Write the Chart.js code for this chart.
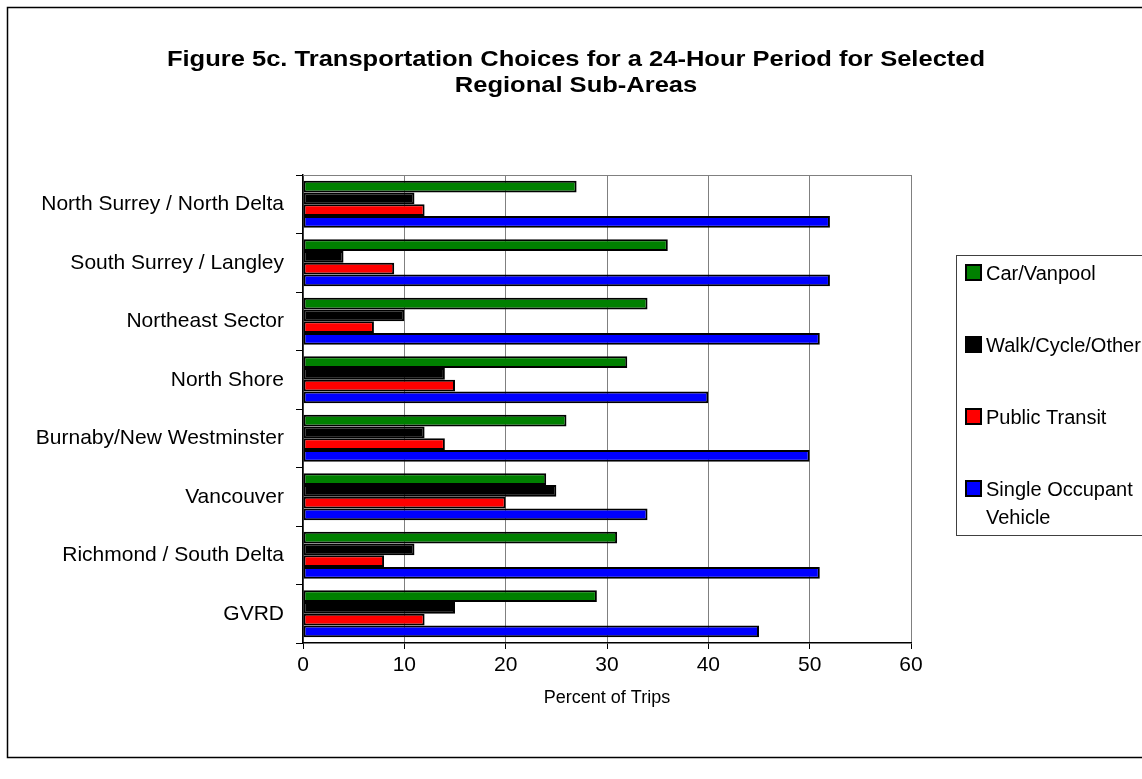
<!DOCTYPE html>
<html>
<head>
<meta charset="utf-8">
<title>Figure 5c</title>
<script src="https://cdn.jsdelivr.net/npm/chart.js@4.4.1/dist/chart.umd.min.js"></script>
<style>
  body { margin: 0; background: #fff; }
  #wrap { width: 1142px; height: 779px; position: relative; }
</style>
</head>
<body>
<div id="wrap"><canvas id="tripChart"></canvas></div>
<script>
// sub-areas, top to bottom
const areas = [
    'North Surrey / North Delta',
    'South Surrey / Langley',
    'Northeast Sector',
    'North Shore',
    'Burnaby/New Westminster',
    'Vancouver',
    'Richmond / South Delta',
    'GVRD'
];

// percent of trips by mode
const carVanpool     = [27, 36, 34, 32, 26, 24, 31, 29];
const walkCycle      = [11, 4, 10, 14, 12, 25, 11, 15];
const publicTransit  = [12, 9, 7, 15, 14, 20, 8, 12];
const singleOccupant = [52, 52, 51, 40, 50, 34, 51, 45];

const seriesLabels = ['Car/Vanpool', 'Walk/Cycle/Other', 'Public Transit', 'Single Occupant Vehicle'];
const seriesColors = ['#008000', '#000000', '#ff0000', '#0000ff'];
const xTicks = [0, 10, 20, 30, 40, 50, 60];

const titleLines = [
    'Figure 5c. Transportation Choices for a 24-Hour Period for Selected',
    'Regional Sub-Areas'
];

const FONT = '"Liberation Sans", Arial, sans-serif';

// outer frame, title, plot top border and the boxed legend on the right
const decorations = {
    id: 'decorations',
    afterDraw(chart) {
        const ctx = chart.ctx;
        const area = chart.chartArea;
        ctx.save();

        // outer frame
        ctx.strokeStyle = '#000';
        ctx.lineWidth = 1.5;
        ctx.strokeRect(7.5, 7.5, 1160, 750);

        // title (the original text is a little wider than the font)
        ctx.fillStyle = '#000';
        ctx.font = 'bold 22px ' + FONT;
        ctx.textAlign = 'center';
        ctx.textBaseline = 'middle';
        ctx.save();
        ctx.translate(576, 0);
        ctx.scale(1.16, 1);
        ctx.fillText(titleLines[0], 0, 60);
        ctx.fillText(titleLines[1], 0, 86);
        ctx.restore();

        // plot frame top line
        ctx.strokeStyle = '#808080';
        ctx.lineWidth = 1;
        ctx.beginPath();
        ctx.moveTo(area.left, area.top + 0.5);
        ctx.lineTo(area.right, area.top + 0.5);
        ctx.stroke();

        // legend box
        ctx.strokeStyle = '#404040';
        ctx.lineWidth = 1;
        ctx.strokeRect(956.5, 255.5, 200, 280);

        ctx.font = '20px ' + FONT;
        ctx.textAlign = 'left';
        chart.data.datasets.forEach((ds, i) => {
            const y = 273 + i * 72;
            ctx.fillStyle = ds.backgroundColor;
            ctx.fillRect(966, y - 8, 15, 15);
            ctx.strokeStyle = '#000';
            ctx.lineWidth = 2;
            ctx.strokeRect(966, y - 8, 15, 15);

            // wrap long labels
            const words = ds.label.split(' ');
            const lines = [];
            let line = '';
            words.forEach(w => {
                const test = line ? line + ' ' + w : w;
                if (line && ctx.measureText(test).width > 165) {
                    lines.push(line);
                    line = w;
                } else {
                    line = test;
                }
            });
            lines.push(line);
            ctx.fillStyle = '#000';
            lines.forEach((l, k) => ctx.fillText(l, 986, y + 1 + k * 28));
        });
        ctx.restore();
    }
};

const datasets = [carVanpool, walkCycle, publicTransit, singleOccupant].map((values, i) => ({
    label: seriesLabels[i],
    data: values,
    backgroundColor: seriesColors[i],
    borderColor: '#000',
    borderWidth: 2,
    borderSkipped: false,
    categoryPercentage: 0.8,
    barPercentage: 1.0
}));

new Chart(document.getElementById('tripChart').getContext('2d'), {
    type: 'bar',
    data: { labels: areas, datasets: datasets },
    plugins: [decorations],
    options: {
        indexAxis: 'y',
        responsive: true,
        maintainAspectRatio: false,
        animation: false,
        layout: { padding: { top: 175, left: 8, right: 231, bottom: 66 } },
        plugins: {
            legend: { display: false },
            title: { display: false },
            tooltip: { enabled: false }
        },
        scales: {
            x: {
                min: 0,
                max: 60,
                afterBuildTicks: scale => { scale.ticks = xTicks.map(v => ({ value: v })); },
                afterFit: scale => { scale.height = 70; },
                grid: { color: '#808080', lineWidth: 1, tickLength: 6, tickColor: '#000' },
                border: { color: '#000', width: 1.5 },
                ticks: { color: '#000', font: { family: FONT, size: 21 }, padding: 4 },
                title: {
                    display: true,
                    text: 'Percent of Trips',
                    color: '#000',
                    font: { family: FONT, size: 18 },
                    padding: { top: 8, bottom: 4 }
                }
            },
            y: {
                afterFit: scale => { scale.width = 295; },
                grid: { drawOnChartArea: false, tickLength: 7, tickColor: '#000' },
                border: { color: '#000', width: 1.5 },
                ticks: { color: '#000', font: { family: FONT, size: 21 }, padding: 12 }
            }
        }
    }
});
</script>
</body>
</html>
